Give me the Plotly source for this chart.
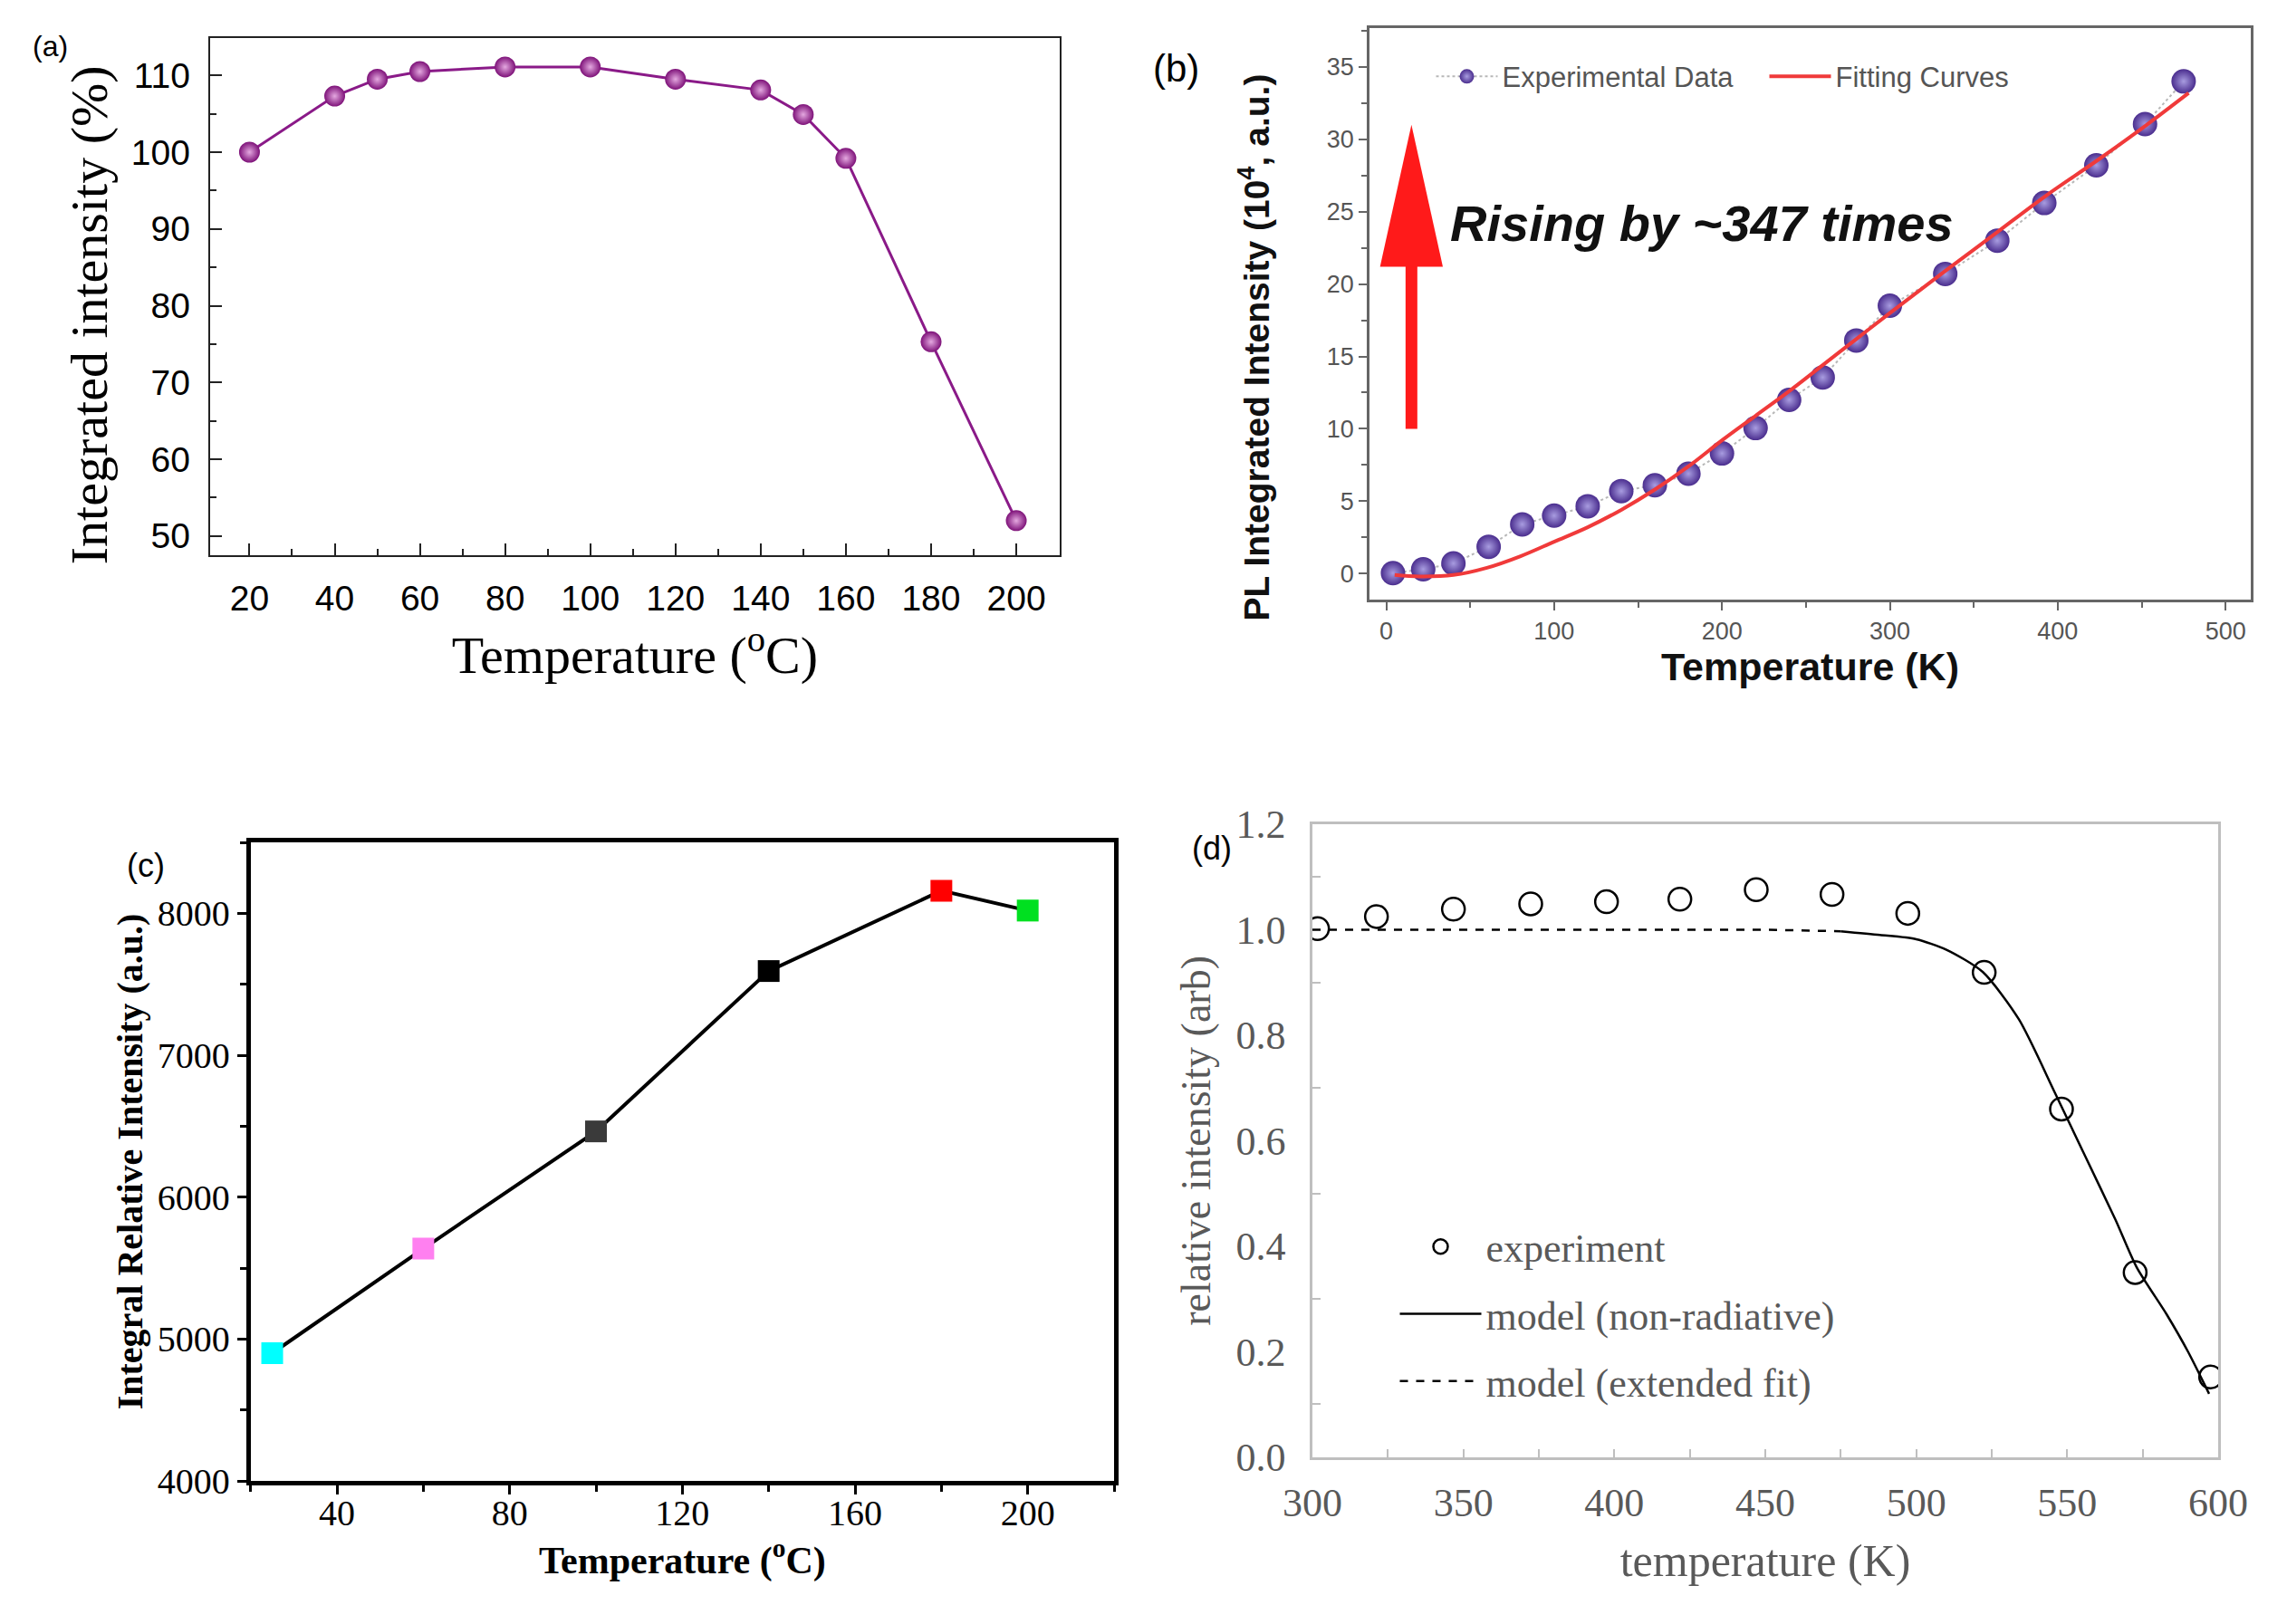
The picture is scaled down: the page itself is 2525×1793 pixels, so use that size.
import plotly.graph_objects as go

# ---- data ----
# (a) integrated intensity vs temperature (C)
temp_a = [20, 40, 50, 60, 80, 100, 120, 140, 150, 160, 180, 200]
inten_a = [100.0, 107.3, 109.5, 110.5, 111.1, 111.1, 109.5, 108.1, 104.9, 99.2, 75.3, 52.0]

# (b) PL integrated intensity (10^4 a.u.) vs temperature (K)
temp_b = [4, 22, 40, 61, 81, 100, 120, 140, 160, 180, 200, 220, 240, 260, 280, 300,
          333, 364, 392, 423, 452, 475]
inten_b = [0.03, 0.3, 0.7, 1.85, 3.4, 4.0, 4.65, 5.7, 6.1, 6.9, 8.3, 10.05, 12.0, 13.55,
           16.1, 18.5, 20.7, 23.0, 25.6, 28.2, 31.05, 34.0]
fit_temp_b = [5, 20, 40, 60, 80, 100, 120, 140, 160, 180, 200, 220, 240, 260, 280, 300,
              333, 363, 393, 423, 453, 478]
fit_b = [-0.1, -0.2, -0.1, 0.4, 1.2, 2.2, 3.2, 4.4, 5.8, 7.4, 9.2, 10.9, 12.6, 14.4,
         16.2, 18.0, 20.9, 23.5, 26.1, 28.5, 31.0, 33.2]

# (c) integral relative intensity vs temperature (C)
temp_c = [25, 60, 100, 140, 180, 200]
inten_c = [4900, 5637, 6463, 7593, 8159, 8019]
colors_c = ["#00ffff", "#ff80f0", "#3a3a3a", "#000000", "#ff0000", "#00e020"]

# (d) relative intensity vs temperature (K)
temp_d = [301.7, 321.2, 346.7, 372.3, 397.4, 421.7, 447.0, 472.1, 497.2, 522.5, 548.1, 572.5, 597.5]
inten_d = [1.002, 1.025, 1.039, 1.049, 1.053, 1.058, 1.076, 1.067, 1.031, 0.919, 0.66, 0.35, 0.152]
ext_temp_d = [300, 350, 400, 450, 475]
ext_fit_d = [1.0, 1.0, 1.0, 1.0, 0.997]
nr_temp_d = [475, 488, 500, 510, 522, 534, 546, 556, 566, 573, 583, 590, 597]
nr_fit_d = [0.997, 0.99, 0.982, 0.962, 0.92, 0.83, 0.69, 0.57, 0.45, 0.36, 0.27, 0.2, 0.12]

SANS = "Liberation Sans, Arial"
SERIF = "Liberation Serif, Times New Roman"

W, H = 2525, 1793
PAGE = 8  # default body margin of the html page


def dom_x(left, right):
    # plot edges in page pixels -> paper fraction
    return [(left - PAGE) / W, (right - PAGE) / W]


def dom_y(top, bottom):
    return [1 - (bottom - PAGE) / H, 1 - (top - PAGE) / H]


S = 1.01


def px(v):
    return v / S


def py(v):
    return 1 - (1 - v) / S


fig = go.Figure()

# ---- panel (a) ----
fig.add_trace(go.Scatter(
    x=temp_a, y=inten_a, mode="lines+markers", xaxis="x", yaxis="y", showlegend=False,
    line=dict(color="#8a1a88", width=3),
    marker=dict(size=23, color="#7e1279", line=dict(width=0),
                gradient=dict(type="radial", color="#e4a8e0")),
))

# ---- panel (b) ----
fig.add_trace(go.Scatter(
    x=temp_b, y=inten_b, mode="lines+markers", xaxis="x2", yaxis="y2",
    name="Experimental Data", legend="legend",
    line=dict(color="#b8b8b8", width=2, dash="dot"),
    marker=dict(size=27, color="#4a2d8e", line=dict(width=0),
                gradient=dict(type="radial", color="#a89ce0")),
))
fig.add_trace(go.Scatter(
    x=fit_temp_b, y=fit_b, mode="lines", xaxis="x2", yaxis="y2",
    name="Fitting Curves", legend="legend", line=dict(color="#f03a3a", width=4, shape="spline"),
))

# ---- panel (c) ----
fig.add_trace(go.Scatter(
    x=temp_c, y=inten_c, mode="lines+markers", xaxis="x3", yaxis="y3", showlegend=False,
    line=dict(color="black", width=4),
    marker=dict(symbol="square", size=24, color=colors_c, line=dict(width=0)),
))

# ---- panel (d) ----
fig.add_trace(go.Scatter(
    x=temp_d, y=inten_d, mode="markers", xaxis="x4", yaxis="y4",
    name="experiment", legend="legend2", legendgroup="e",
    marker=dict(symbol="circle-open", size=25, color="black", line=dict(width=2.5, color="black")),
))
fig.add_trace(go.Scatter(
    x=nr_temp_d, y=nr_fit_d, mode="lines", xaxis="x4", yaxis="y4",
    name="model (non-radiative)", legend="legend2", legendgroup="n",
    line=dict(color="black", width=2.5, shape="spline", smoothing=0.7),
))
fig.add_trace(go.Scatter(
    x=ext_temp_d, y=ext_fit_d, mode="lines", xaxis="x4", yaxis="y4",
    name="model (extended fit)", legend="legend2", legendgroup="x",
    line=dict(color="black", width=2.5, dash="dash"),
))

# red arrow in panel (b)
arrow_x, arrow_y0, arrow_base, arrow_tip, arrow_half = 15, 10, 21.2, 31, 18.7
fig.add_shape(type="line", xref="x2", yref="y2", x0=arrow_x, x1=arrow_x, y0=arrow_y0, y1=arrow_base + 0.5,
              line=dict(color="#ff1a1a", width=13))
fig.add_shape(type="path", xref="x2", yref="y2",
              path=f"M {arrow_x - arrow_half},{arrow_base} L {arrow_x + arrow_half},{arrow_base} L {arrow_x},{arrow_tip} Z",
              fillcolor="#ff1a1a", line=dict(width=0))

fig.add_annotation(x=37, y=24.2, xref="x2", yref="y2", xanchor="left", yanchor="middle",
                   text="<b><i>Rising by ~347 times</i></b>", showarrow=False,
                   font=dict(family=SANS, size=56, color="#111111"))

# y titles of panels (a) and (b): both sit a little below the axis centre in the original
fig.add_annotation(x=px(0.0365), y=py(0.8085), xref="paper", yref="paper", textangle=-90,
                   xanchor="center", yanchor="middle", showarrow=False,
                   text="Integrated intensity (%)",
                   font=dict(family=SERIF, size=58, color="black"))
fig.add_annotation(x=px(0.5505), y=py(0.7886), xref="paper", yref="paper", textangle=-90,
                   xanchor="center", yanchor="middle", showarrow=False,
                   text="<b>PL Integrated Intensity (10<sup>4</sup>, a.u.)</b>",
                   font=dict(family=SANS, size=39, color="#111111"))

# panel labels
for lbl, lx, ly, sz in [("(a)", 0.019, 0.976, 32), ("(b)", 0.516, 0.962, 42),
                         ("(c)", 0.061, 0.466, 36), ("(d)", 0.532, 0.477, 36)]:
    fig.add_annotation(x=px(lx), y=py(ly), xref="paper", yref="paper", text=lbl, showarrow=False,
                       xanchor="center", yanchor="middle",
                       font=dict(family=SANS, size=sz, color="black"))

axis_a = dict(showgrid=False, zeroline=False, showline=True, mirror=True, linecolor="#222222",
              linewidth=2, ticks="inside", ticklen=13, tickwidth=2, tickcolor="#222222", automargin=False,
              ticklabelstandoff=12, tickfont=dict(family=SANS, size=39, color="black"))
axis_b = dict(showgrid=False, zeroline=False, showline=True, mirror=True, linecolor="#666666",
              linewidth=2.5, ticks="outside", ticklen=9, tickwidth=2, tickcolor="#666666", automargin=False,
              tickfont=dict(family=SANS, size=27, color="#555555"))
axis_c = dict(showgrid=False, zeroline=False, showline=True, mirror=True, linecolor="black",
              linewidth=5, ticks="outside", ticklen=10, tickwidth=3, tickcolor="black", automargin=False,
              tickfont=dict(family=SERIF, size=40, color="black"))
axis_d = dict(showgrid=False, zeroline=False, showline=True, mirror=True, linecolor="#bfbfbf",
              linewidth=2.5, automargin=False, tickfont=dict(family=SERIF, size=44, color="#595959"))

fig.update_layout(
    width=W, height=H, plot_bgcolor="white", paper_bgcolor="white",
    font=dict(color="black"),
    margin=dict(l=0, r=0, t=0, b=0),
    # (a)
    xaxis=dict(axis_a, domain=dom_x(231.7, 1170), anchor="y", range=[10.7, 210.2],
               tick0=20, dtick=20, minor=dict(dtick=10, ticks="inside", ticklen=7, tickcolor="#222222"),
               title=dict(text="Temperature (<sup>o</sup>C)", font=dict(family=SERIF, size=58, color="black"),
                          standoff=22)),
    yaxis=dict(axis_a, domain=dom_y(41.7, 613), anchor="x", range=[47.5, 114.9],
               tick0=50, dtick=10, minor=dict(dtick=5, ticks="inside", ticklen=7, tickcolor="#222222")),
    # (b)
    xaxis2=dict(axis_b, domain=dom_x(1512, 2485), anchor="y2", range=[-10, 515],
                tick0=0, dtick=100, minor=dict(dtick=50, ticks="outside", ticklen=6, tickcolor="#666666"),
                title=dict(text="<b>Temperature (K)</b>", font=dict(family=SANS, size=43, color="#111111"),
                           standoff=8)),
    yaxis2=dict(axis_b, domain=dom_y(30.7, 662), anchor="x2", range=[-1.8, 37.7],
                tick0=0, dtick=5, minor=dict(dtick=2.5, ticks="outside", ticklen=6, tickcolor="#666666")),
    # (c)
    xaxis3=dict(axis_c, domain=dom_x(276.7, 1230), anchor="y3", range=[20, 220],
                tick0=40, dtick=40, ticklabelstandoff=-14,
                minor=dict(dtick=20, ticks="outside", ticklen=7, tickcolor="black"),
                title=dict(text="<b>Temperature (<sup>o</sup>C)</b>", font=dict(family=SERIF, size=42, color="black"),
                           standoff=0)),
    yaxis3=dict(axis_c, domain=dom_y(930, 1635), anchor="x3", range=[4000, 8500],
                tick0=4000, dtick=1000, minor=dict(dtick=500, ticks="outside", ticklen=7, tickcolor="black"),
                title=dict(text="<b>Integral Relative Intensity (a.u.)</b>",
                           font=dict(family=SERIF, size=40, color="black"), standoff=5)),
    # (d)
    xaxis4=dict(axis_d, domain=dom_x(1449, 2449), anchor="y4", range=[300, 600],
                tick0=300, dtick=50, ticks="inside", ticklen=9, tickwidth=2, tickcolor="#bfbfbf",
                ticklabelstandoff=10,
                minor=dict(dtick=25, ticks="inside", ticklen=9, tickwidth=2, tickcolor="#bfbfbf"),
                title=dict(text="temperature (K)", font=dict(family=SERIF, size=50, color="#595959"),
                           standoff=22)),
    yaxis4=dict(axis_d, domain=dom_y(910, 1608.7), anchor="x4", range=[0, 1.2],
                tick0=0, dtick=0.2, tickformat=".1f", ticks="", ticklabelstandoff=18,
                minor=dict(dtick=0.1, ticks="inside", ticklen=9, tickwidth=2, tickcolor="#bfbfbf"),
                title=dict(text="relative intensity (arb)", font=dict(family=SERIF, size=46, color="#595959"),
                           standoff=14)),
    legend=dict(x=px(0.629), y=py(0.972), xanchor="left", yanchor="top", orientation="h",
                bgcolor="rgba(0,0,0,0)", font=dict(family=SANS, size=31, color="#555555"),
                itemwidth=68, entrywidth=285, entrywidthmode="pixels"),
    legend2=dict(x=px(0.613), y=py(0.249), xanchor="left", yanchor="top", orientation="v",
                 bgcolor="rgba(0,0,0,0)", font=dict(family=SERIF, size=44, color="#595959"),
                 itemwidth=90, tracegroupgap=14),
)

fig.write_html("out.html")
